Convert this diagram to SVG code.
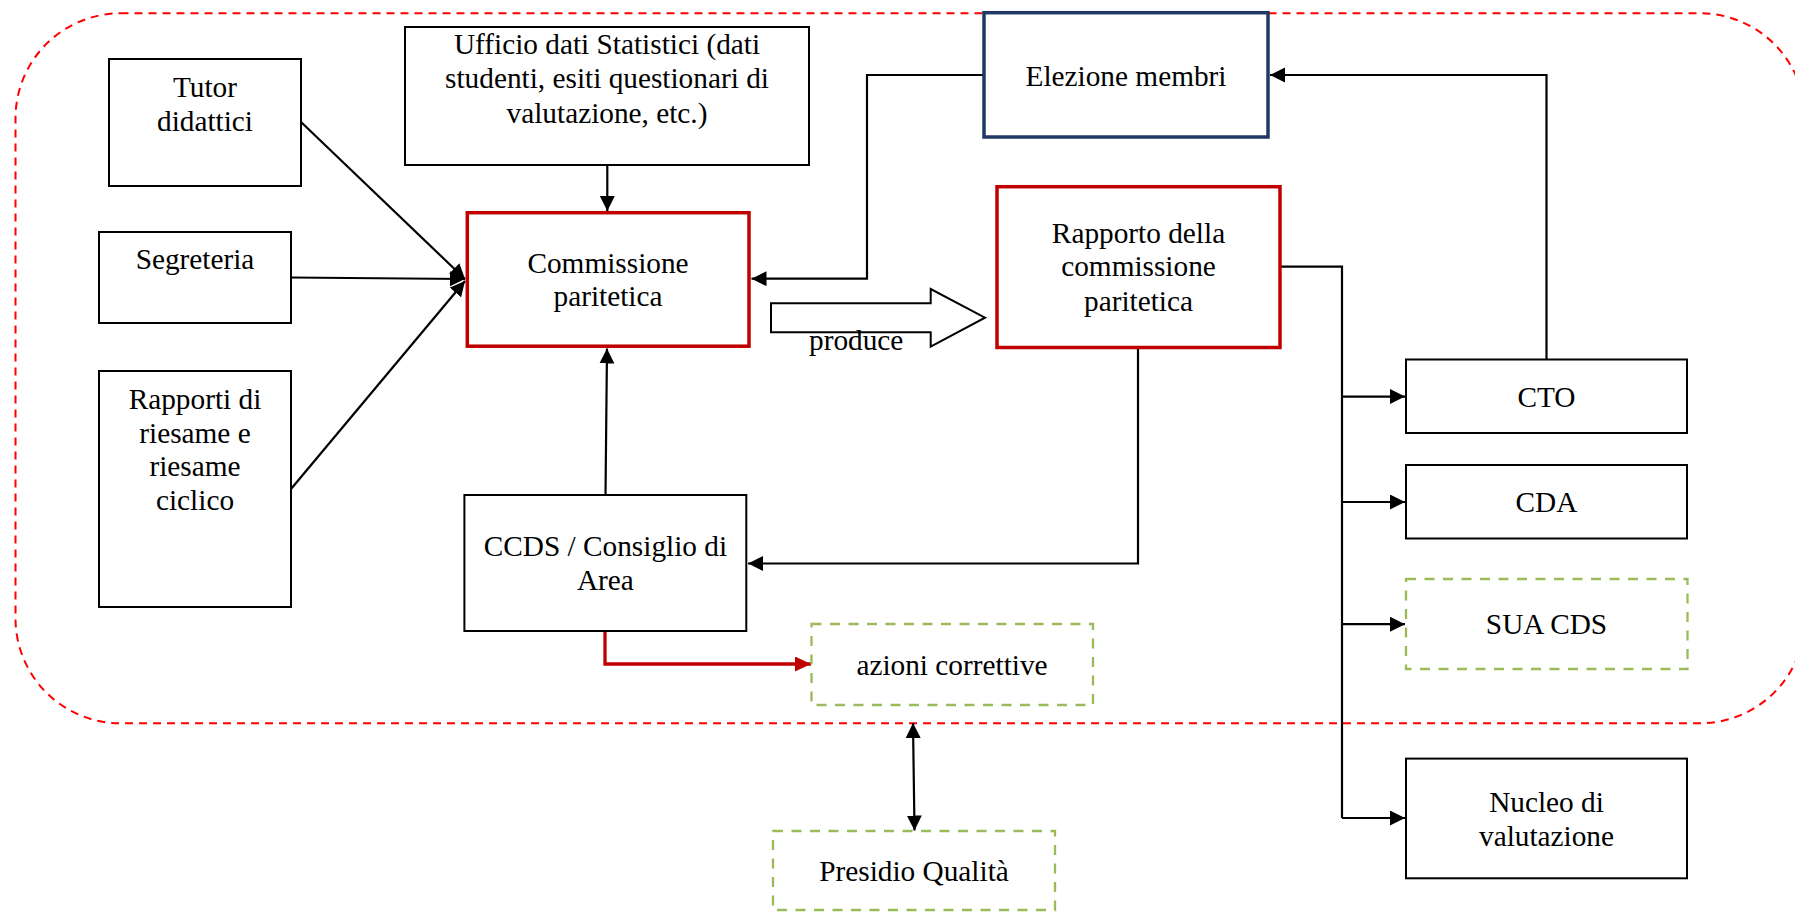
<svg xmlns="http://www.w3.org/2000/svg" width="1795" height="912" viewBox="0 0 1795 912">
  <style>
    text { font-family: "Liberation Serif", "Times New Roman", serif; font-size: 29.3px; fill: #000; text-anchor: middle; }
    .box { fill: #fff; stroke: #000; stroke-width: 2; }
    .red { fill: #fff; stroke: #C00000; stroke-width: 3.5; }
    .blue { fill: #fff; stroke: #1F3864; stroke-width: 3.5; }
    .green { fill: #fff; stroke: #9BBB59; stroke-width: 2.3; stroke-dasharray: 10 8.5; }
    .frame { fill: none; stroke: #FF0000; stroke-width: 2; stroke-dasharray: 8 6; }
    .link { fill: none; stroke: #000; stroke-width: 2.2; }
    .link-red { fill: none; stroke: #C00000; stroke-width: 3.3; }
  </style>
  <defs>
    <marker id="arrow" markerUnits="userSpaceOnUse" markerWidth="16" markerHeight="16" refX="15" refY="7.5" orient="auto">
      <path d="M0,0 L15,7.5 L0,15 Z" fill="#000"/>
    </marker>
    <marker id="arrow-start" markerUnits="userSpaceOnUse" markerWidth="16" markerHeight="16" refX="0" refY="7.5" orient="auto">
      <path d="M15,0 L0,7.5 L15,15 Z" fill="#000"/>
    </marker>
    <marker id="arrow-red" markerUnits="userSpaceOnUse" markerWidth="17" markerHeight="17" refX="16" refY="7.5" orient="auto">
      <path d="M0,0 L16,7.5 L0,15 Z" fill="#C00000"/>
    </marker>
  </defs>

  <!-- dashed boundary of the internal process -->
  <rect class="frame" x="15.5" y="13.3" width="1789.5" height="710" rx="105" ry="105"/>

  <g id="connectors">
    <!-- inputs to the commission -->
    <line class="link" x1="607.3" y1="165" x2="607.3" y2="211" marker-end="url(#arrow)"/>
    <line class="link" x1="301" y1="122" x2="465" y2="279" marker-end="url(#arrow)"/>
    <line class="link" x1="291" y1="277.5" x2="465" y2="279" marker-end="url(#arrow)"/>
    <line class="link" x1="291" y1="489" x2="465" y2="281" marker-end="url(#arrow)"/>
    <line class="link" x1="605.5" y1="495" x2="607" y2="348.5" marker-end="url(#arrow)"/>
    <polyline class="link" points="984,75 867,75 867,278.7 751.5,278.7" marker-end="url(#arrow)"/>
    <!-- CTO back to the election -->
    <polyline class="link" points="1546.5,359.5 1546.5,75 1270,75" marker-end="url(#arrow)"/>
    <!-- report distribution bus -->
    <polyline class="link" points="1281,266.7 1342,266.7 1342,818" stroke-width="2.6"/>
    <line class="link" x1="1342" y1="396.6" x2="1405" y2="396.6" marker-end="url(#arrow)"/>
    <line class="link" x1="1342" y1="502" x2="1405" y2="502" marker-end="url(#arrow)"/>
    <line class="link" x1="1342" y1="624.2" x2="1405" y2="624.2" marker-end="url(#arrow)"/>
    <line class="link" x1="1342" y1="818" x2="1405" y2="818" marker-end="url(#arrow)"/>
    <!-- report back to CCDS -->
    <polyline class="link" points="1138,348 1138,563.5 748,563.5" marker-end="url(#arrow)"/>
    <!-- corrective actions -->
    <polyline class="link-red" points="605,631 605,664 811,664" marker-end="url(#arrow-red)"/>
    <!-- link with the quality board -->
    <line class="link" x1="913" y1="723" x2="914.5" y2="830.5" marker-start="url(#arrow-start)" marker-end="url(#arrow)"/>
    <!-- "produce" block arrow -->
    <path d="M771,303.3 L930.7,303.3 L930.7,289 L985,317.7 L930.7,346.7 L930.7,332.3 L771,332.3 Z" fill="#fff" stroke="#000" stroke-width="2"/>
    <text x="809" y="350" style="text-anchor:start">produce</text>
  </g>

  <g id="tutor">
    <rect class="box" x="109" y="59" width="192" height="127"/>
    <text x="205" y="97">Tutor</text>
    <text x="205" y="131">didattici</text>
  </g>

  <g id="ufficio">
    <rect class="box" x="405" y="27" width="404" height="138"/>
    <text x="607" y="54.3">Ufficio dati Statistici (dati</text>
    <text x="607" y="88.3">studenti, esiti questionari di</text>
    <text x="607" y="122.7">valutazione, etc.)</text>
  </g>

  <g id="segreteria">
    <rect class="box" x="99" y="232" width="192" height="91"/>
    <text x="195" y="269">Segreteria</text>
  </g>

  <g id="rapporti-riesame">
    <rect class="box" x="99" y="371" width="192" height="236"/>
    <text x="195" y="409">Rapporti di</text>
    <text x="195" y="442.5">riesame e</text>
    <text x="195" y="476">riesame</text>
    <text x="195" y="509.5">ciclico</text>
  </g>

  <g id="commissione">
    <rect class="red" x="467.3" y="212.7" width="281.7" height="133.5"/>
    <text x="608" y="273">Commissione</text>
    <text x="608" y="306">paritetica</text>
  </g>

  <g id="elezione">
    <rect class="blue" x="984" y="12.7" width="284" height="124.3"/>
    <text x="1126" y="86">Elezione membri</text>
  </g>

  <g id="rapporto">
    <rect class="red" x="997" y="186.7" width="283" height="160.8"/>
    <text x="1138.5" y="242.5">Rapporto della</text>
    <text x="1138.5" y="276">commissione</text>
    <text x="1138.5" y="310.5">paritetica</text>
  </g>

  <g id="ccds">
    <rect class="box" x="464.4" y="495" width="281.9" height="136"/>
    <text x="605.4" y="556">CCDS / Consiglio di</text>
    <text x="605.4" y="590">Area</text>
  </g>

  <g id="azioni">
    <rect class="green" x="811.5" y="624" width="281.5" height="81"/>
    <text x="952" y="675">azioni correttive</text>
  </g>

  <g id="presidio">
    <rect class="green" x="773" y="831" width="282" height="79"/>
    <text x="914" y="881">Presidio Qualità</text>
  </g>

  <g id="cto">
    <rect class="box" x="1406" y="359.5" width="281" height="73.5"/>
    <text x="1546.5" y="407">CTO</text>
  </g>

  <g id="cda">
    <rect class="box" x="1406" y="465" width="281" height="73.5"/>
    <text x="1546.5" y="512">CDA</text>
  </g>

  <g id="sua-cds">
    <rect class="green" x="1406" y="579" width="281.5" height="90"/>
    <text x="1546.5" y="634">SUA CDS</text>
  </g>

  <g id="nucleo">
    <rect class="box" x="1406" y="758.6" width="281" height="119.7"/>
    <text x="1546.5" y="811.6">Nucleo di</text>
    <text x="1546.5" y="845.7">valutazione</text>
  </g>
</svg>
